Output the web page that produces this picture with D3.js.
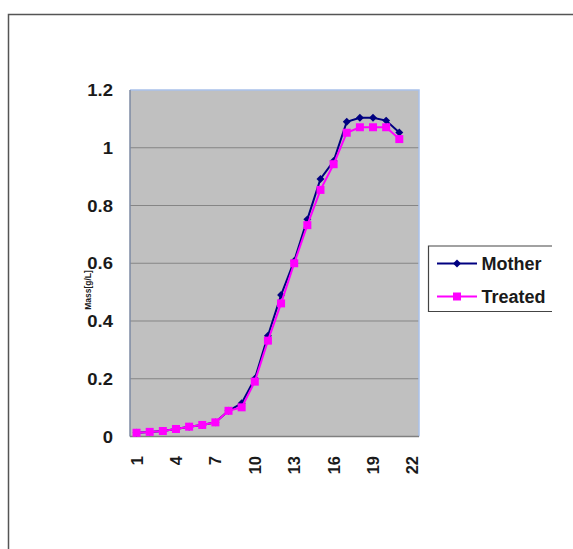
<!DOCTYPE html>
<html>
<head>
<meta charset="utf-8">
<script src="https://cdn.jsdelivr.net/npm/d3@7"></script>
<style>
  html, body { margin: 0; padding: 0; background: #fff; }
  svg { display: block; font-family: "Liberation Sans", Arial, sans-serif; }
</style>
</head>
<body>
<svg id="chart" width="573" height="549"></svg>
<script>
// Sampling days (category axis 1..22, data for days 1..21)
const categories = d3.range(1, 23);
const days = d3.range(1, 22);
const motherMass = [0.013, 0.016, 0.019, 0.026, 0.034, 0.040, 0.049, 0.089, 0.115, 0.200,
  0.349, 0.490, 0.608, 0.752, 0.892, 0.954, 1.090, 1.104, 1.104, 1.094, 1.053];
const treatedMass = [0.013, 0.016, 0.019, 0.026, 0.034, 0.040, 0.049, 0.089, 0.101, 0.190,
  0.332, 0.461, 0.600, 0.732, 0.854, 0.943, 1.052, 1.071, 1.071, 1.071, 1.030];
const xTickLabels = [1, 4, 7, 10, 13, 16, 19, 22];
const yTickValues = [0, 0.2, 0.4, 0.6, 0.8, 1, 1.2];
const seriesNames = ["Mother", "Treated"];

const svg = d3.select("#chart");

// Outer chart frame
svg.append("path")
  .attr("d", "M573,14.5 H8.5 V549")
  .attr("fill", "none").attr("stroke", "#555").attr("stroke-width", 1.5);

const plot = { left: 130, top: 90, right: 419, bottom: 436.5 };

const x = d3.scaleBand().domain(categories).range([plot.left, plot.right]);
const y = d3.scaleLinear().domain([0, 1.2]).range([plot.bottom, plot.top]);
const cx = d => x(d) + x.bandwidth() / 2;

// Plot area
svg.append("rect")
  .attr("x", plot.left).attr("y", plot.top)
  .attr("width", plot.right - plot.left).attr("height", plot.bottom - plot.top)
  .attr("fill", "#c0c0c0");

// Gridlines
svg.append("g").selectAll("line")
  .data(yTickValues.filter(v => v > 0 && v < 1.2))
  .join("line")
  .attr("x1", plot.left).attr("x2", plot.right)
  .attr("y1", d => y(d)).attr("y2", d => y(d))
  .attr("stroke", "#858585").attr("stroke-width", 1);

// Plot-area border (top & right)
svg.append("path")
  .attr("d", `M${plot.left},${plot.top} H${plot.right} V${plot.bottom}`)
  .attr("fill", "none").attr("stroke", "#a9c1ea").attr("stroke-width", 1.5);

// Axis lines
svg.append("line")
  .attr("x1", plot.left).attr("x2", plot.left)
  .attr("y1", plot.top).attr("y2", plot.bottom)
  .attr("stroke", "#7d8aa3").attr("stroke-width", 1.5);
svg.append("line")
  .attr("x1", plot.left).attr("x2", plot.right)
  .attr("y1", plot.bottom).attr("y2", plot.bottom)
  .attr("stroke", "#7f7f7f").attr("stroke-width", 1.5);

// Y tick labels (slightly wide glyphs)
svg.append("g").selectAll("text")
  .data(yTickValues)
  .join("text")
  .attr("transform", d => `translate(113,${y(d) + 6}) scale(1.12,1)`)
  .attr("text-anchor", "end")
  .attr("font-size", 16.5).attr("font-weight", "bold").attr("fill", "#1a1a1a")
  .text(d => d3.format("~g")(d));

// X tick labels (rotated)
svg.append("g").selectAll("text")
  .data(xTickLabels)
  .join("text")
  .attr("transform", d => `translate(${cx(d) + 6},456) rotate(-90)`)
  .attr("text-anchor", "end")
  .attr("font-size", 16.5).attr("font-weight", "bold").attr("fill", "#1a1a1a")
  .text(d => d);

// Y axis title
svg.append("text")
  .attr("transform", "translate(90.5,290) rotate(-90)")
  .attr("text-anchor", "middle")
  .attr("font-size", 8.5).attr("font-weight", "bold").attr("fill", "#1a1a1a")
  .text("Mass[g/L]");

const line = d3.line().x((d, i) => cx(days[i])).y(d => y(d));

// Mother series
svg.append("path").datum(motherMass)
  .attr("d", line).attr("fill", "none")
  .attr("stroke", "#000080").attr("stroke-width", 2);
svg.append("g").selectAll("path")
  .data(motherMass)
  .join("path")
  .attr("d", d3.symbol(d3.symbolDiamond2, 40))
  .attr("transform", (d, i) => `translate(${cx(days[i])},${y(d)})`)
  .attr("fill", "#000080");

// Treated series
svg.append("path").datum(treatedMass)
  .attr("d", line).attr("fill", "none")
  .attr("stroke", "#ff00ff").attr("stroke-width", 2);
svg.append("g").selectAll("rect")
  .data(treatedMass)
  .join("rect")
  .attr("x", (d, i) => cx(days[i]) - 4).attr("y", d => y(d) - 4)
  .attr("width", 8).attr("height", 8)
  .attr("fill", "#ff00ff");

// Legend
const legend = svg.append("g");
legend.append("path")
  .attr("d", "M552,246 H428.5 V311.5 H552")
  .attr("fill", "#fff").attr("stroke", "#444").attr("stroke-width", 1.2);
const legendColors = ["#000080", "#ff00ff"];
const legendY = [263.5, 296.5];
seriesNames.forEach((name, i) => {
  legend.append("line")
    .attr("x1", 437).attr("x2", 477)
    .attr("y1", legendY[i]).attr("y2", legendY[i])
    .attr("stroke", legendColors[i]).attr("stroke-width", 2);
  if (i === 0) {
    legend.append("path")
      .attr("d", d3.symbol(d3.symbolDiamond2, 40))
      .attr("transform", `translate(457,${legendY[i]})`)
      .attr("fill", legendColors[i]);
  } else {
    legend.append("rect")
      .attr("x", 453).attr("y", legendY[i] - 4)
      .attr("width", 8).attr("height", 8)
      .attr("fill", legendColors[i]);
  }
  legend.append("text")
    .attr("x", 481.5).attr("y", legendY[i] + 6.5)
    .attr("font-size", 18).attr("font-weight", "bold").attr("fill", "#1a1a1a")
    .text(name);
});
</script>
</body>
</html>
